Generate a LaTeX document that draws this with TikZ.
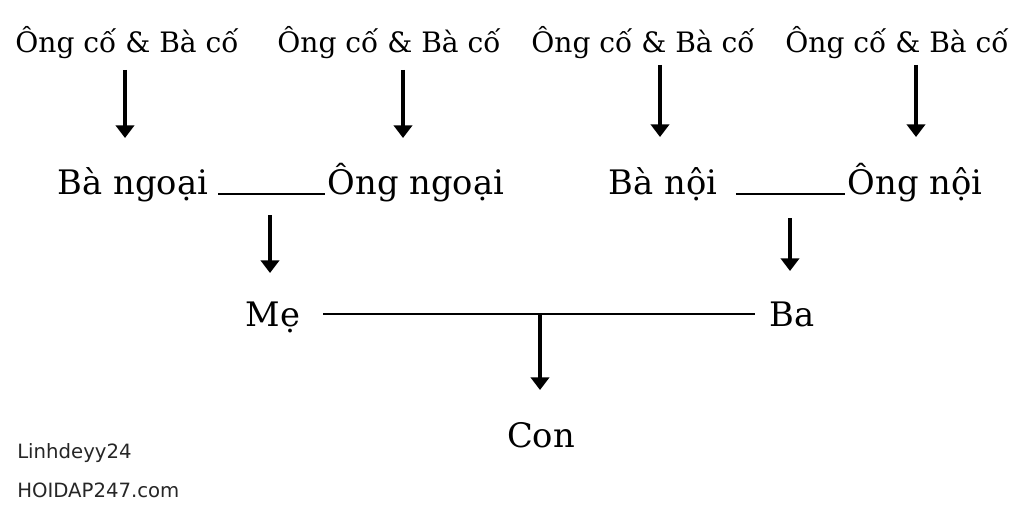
\documentclass[tikz,border=0pt]{standalone}
\usepackage{fontspec}
\setmainfont{DejaVu Serif}
\newfontfamily\stampfont{DejaVu Sans}
\usetikzlibrary{arrows.meta}

\begin{document}
\begin{tikzpicture}[x=0.025cm, y=-0.025cm,
  elder/.style={anchor=base, inner sep=0pt, font=\fontsize{20}{24}\selectfont},
  kin/.style={anchor=base, inner sep=0pt, font=\fontsize{24}{28}\selectfont},
  stamp/.style={anchor=base west, inner sep=0pt, text=black!85, font=\stampfont\fontsize{14}{17}\selectfont},
  arr/.style={line width=2.5pt, -{Triangle[width=13pt,length=9pt]}},
  link/.style={line width=2pt}]
  \useasboundingbox[fill=white] (0,0) rectangle (1024,512);

  \node[elder] (cu1) at (127,53) {Ông cố \& Bà cố};
  \node[elder] (cu2) at (389,53) {Ông cố \& Bà cố};
  \node[elder] (cu3) at (643,53) {Ông cố \& Bà cố};
  \node[elder] (cu4) at (897,53) {Ông cố \& Bà cố};

  \node[kin] (bangoai) at (133,194) {Bà ngoại};
  \node[kin] (ongngoai) at (416,194) {Ông ngoại};
  \node[kin] (banoi) at (663,194) {Bà nội};
  \node[kin] (ongnoi) at (915,194) {Ông nội};

  \node[kin] (me) at (273,326) {Mẹ};
  \node[kin] (ba) at (792,326) {Ba};
  \node[kin] (con) at (541,447) {Con};

  \node[stamp] (tacgia) at (17,458) {Linhdeyy24};
  \node[stamp] (trang) at (17,497) {HOIDAP247.com};

  \coordinate (t1) at (125,70);  \coordinate (b1) at (125,138);
  \coordinate (t2) at (403,70);  \coordinate (b2) at (403,138);
  \coordinate (t3) at (660,65);  \coordinate (b3) at (660,137);
  \coordinate (t4) at (916,65);  \coordinate (b4) at (916,137);
  \coordinate (t5) at (270,215); \coordinate (b5) at (270,273);
  \coordinate (t6) at (790,218); \coordinate (b6) at (790,271);
  \coordinate (t7) at (540,314); \coordinate (b7) at (540,390);

  \draw[arr] (t1) -- (b1);
  \draw[arr] (t2) -- (b2);
  \draw[arr] (t3) -- (b3);
  \draw[arr] (t4) -- (b4);
  \draw[arr] (t5) -- (b5);
  \draw[arr] (t6) -- (b6);

  \draw[link] ([xshift=7pt]bangoai.base east) -- ([xshift=-1.5pt]ongngoai.base west);
  \draw[link] ([xshift=13pt]banoi.base east) -- ([xshift=-2pt]ongnoi.base west);
  \draw[link] ([xshift=16pt,yshift=8.5pt]me.base east) -- ([xshift=-10pt,yshift=8.5pt]ba.base west);
  \draw[arr] (t7) -- (b7);
\end{tikzpicture}
\end{document}
